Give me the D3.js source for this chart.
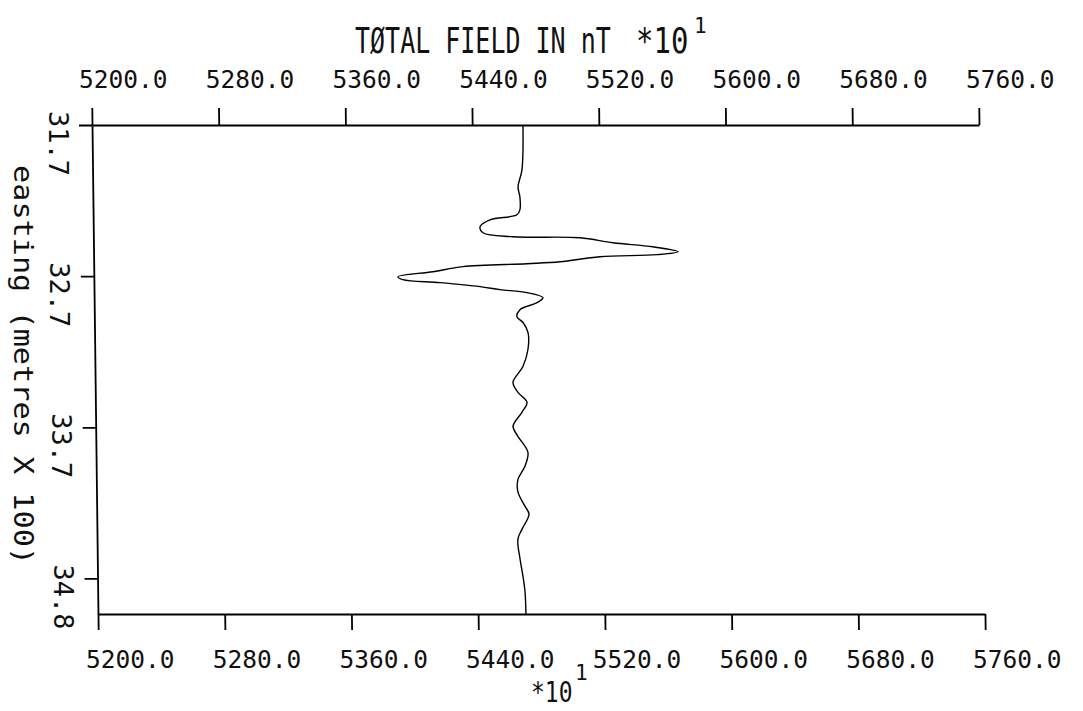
<!DOCTYPE html>
<html><head><meta charset="utf-8">
<script src="https://cdn.jsdelivr.net/npm/d3@7/dist/d3.min.js"></script>
<style>
body{margin:0;background:#fff}
text{font-family:"DejaVu Sans Mono",monospace;fill:#111}
</style>
</head><body>
<svg id="c" width="1083" height="711"></svg>
<script>
// ---- data ----
const xTicks = [5200, 5280, 5360, 5440, 5520, 5600, 5680, 5760];
const xTickLabels = ["5200.0", "5280.0", "5360.0", "5440.0", "5520.0", "5600.0", "5680.0", "5760.0"];
const yTicks = [31.7, 32.72, 33.74, 34.76];
const yTickLabels = ["31.7", "32.7", "33.7", "34.8"];
const easting = [31.700, 32.003, 32.118, 32.185, 32.272, 32.306, 32.340, 32.387, 32.427, 32.454,
  32.461, 32.495, 32.522, 32.555, 32.575, 32.589, 32.623, 32.636, 32.656, 32.690,
  32.724, 32.744, 32.764, 32.791, 32.811, 32.831, 32.865, 32.899, 32.946, 32.993,
  33.033, 33.101, 33.215, 33.330, 33.437, 33.505, 33.572, 33.639, 33.734, 33.801,
  33.909, 34.003, 34.091, 34.178, 34.272, 34.326, 34.427, 34.495, 34.629, 34.744,
  34.852, 35.000];
const totalField = [5472.1, 5471.1, 5468.5, 5469.6, 5469.5, 5467.6, 5450.5, 5444.2, 5446.0, 5464.9,
  5507.2, 5528.0, 5553.2, 5569.0, 5555.7, 5519.7, 5494.4, 5473.5, 5433.1, 5414.1,
  5392.0, 5395.1, 5418.5, 5443.7, 5456.3, 5473.3, 5483.4, 5479.6, 5468.8, 5466.8,
  5470.6, 5473.7, 5473.5, 5470.2, 5463.8, 5466.9, 5472.5, 5469.2, 5463.5, 5466.5,
  5472.7, 5470.7, 5466.2, 5466.1, 5470.4, 5472.9, 5468.4, 5465.7, 5466.9, 5468.6,
  5469.8, 5470.2];
const titleText = "TØTAL FIELD IN nT";
const yTitle = "easting (metres X 100)";

// ---- layout ----
const svg = d3.select("#c");
const x = d3.scaleLinear().domain([5200, 5760]).range([92, 979]);
const y = d3.scaleLinear().domain([31.7, 35.0]).range([125, 614]);
const shear = 0.0122; // the plotted frame leans slightly
const plot = svg.append("g")
  .attr("transform", `matrix(1,0,${shear},1,${-shear * 125},0)`);

const styleAxis = g => {
  g.selectAll("path,line").attr("stroke", "#000").attr("stroke-width", 1.8);
  g.selectAll("text").remove();
};
plot.append("g").attr("transform", "translate(0,125)")
  .call(d3.axisTop(x).tickValues(xTicks).tickSize(17).tickSizeOuter(0))
  .call(styleAxis);
plot.append("g").attr("transform", "translate(0,614)")
  .call(d3.axisBottom(x).tickValues(xTicks).tickSize(16).tickSizeOuter(0))
  .call(styleAxis);
plot.append("g").attr("transform", "translate(92,0)")
  .call(d3.axisLeft(y).tickValues(yTicks).tickSize(13).tickSizeOuter(0))
  .call(styleAxis);

const pts = easting.map((e, i) => ({e, v: totalField[i]}));
plot.append("path").datum(pts)
  .attr("fill", "none").attr("stroke", "#000").attr("stroke-width", 1.4)
  .attr("d", d3.line().x(d => x(d.v)).y(d => y(d.e)).curve(d3.curveCatmullRom.alpha(0.5)));

// ---- text ----
const bottomShift = shear * (614 - 125);
svg.append("g").selectAll("text").data(xTicks).join("text")
  .attr("x", d => x(d) - 13).attr("y", 88)
  .attr("font-size", 24.5)
  .text((d, i) => xTickLabels[i]);
svg.append("g").selectAll("text").data(xTicks).join("text")
  .attr("x", d => x(d) + bottomShift - 12).attr("y", 668)
  .attr("font-size", 24.5)
  .text((d, i) => xTickLabels[i]);
svg.append("g").selectAll("text").data(yTicks).join("text")
  .attr("transform", d => `translate(${58 + shear * (y(d) - 125)},${y(d) - 14}) rotate(90)`)
  .attr("dominant-baseline", "central")
  .attr("font-size", 27)
  .text((d, i) => yTickLabels[i]);

svg.append("text").attr("transform", "translate(23,365) rotate(90)")
  .attr("text-anchor", "middle").attr("dominant-baseline", "central")
  .attr("font-size", 27).attr("textLength", 400).attr("lengthAdjust", "spacingAndGlyphs")
  .text(yTitle);

svg.append("text").attr("transform", "translate(355,53) scale(1,1.42)")
  .attr("font-size", 25)
  .text(titleText);
svg.append("text").attr("transform", "translate(636,53) scale(1,1.2)")
  .attr("font-size", 29)
  .text("*10");
svg.append("text").attr("x", 694).attr("y", 33).attr("font-size", 21).text("1");

svg.append("text").attr("transform", "translate(531,702) scale(1,1.2)")
  .attr("font-size", 23)
  .text("*10");
svg.append("text").attr("x", 575).attr("y", 680).attr("font-size", 21).text("1");
</script>
</body></html>
